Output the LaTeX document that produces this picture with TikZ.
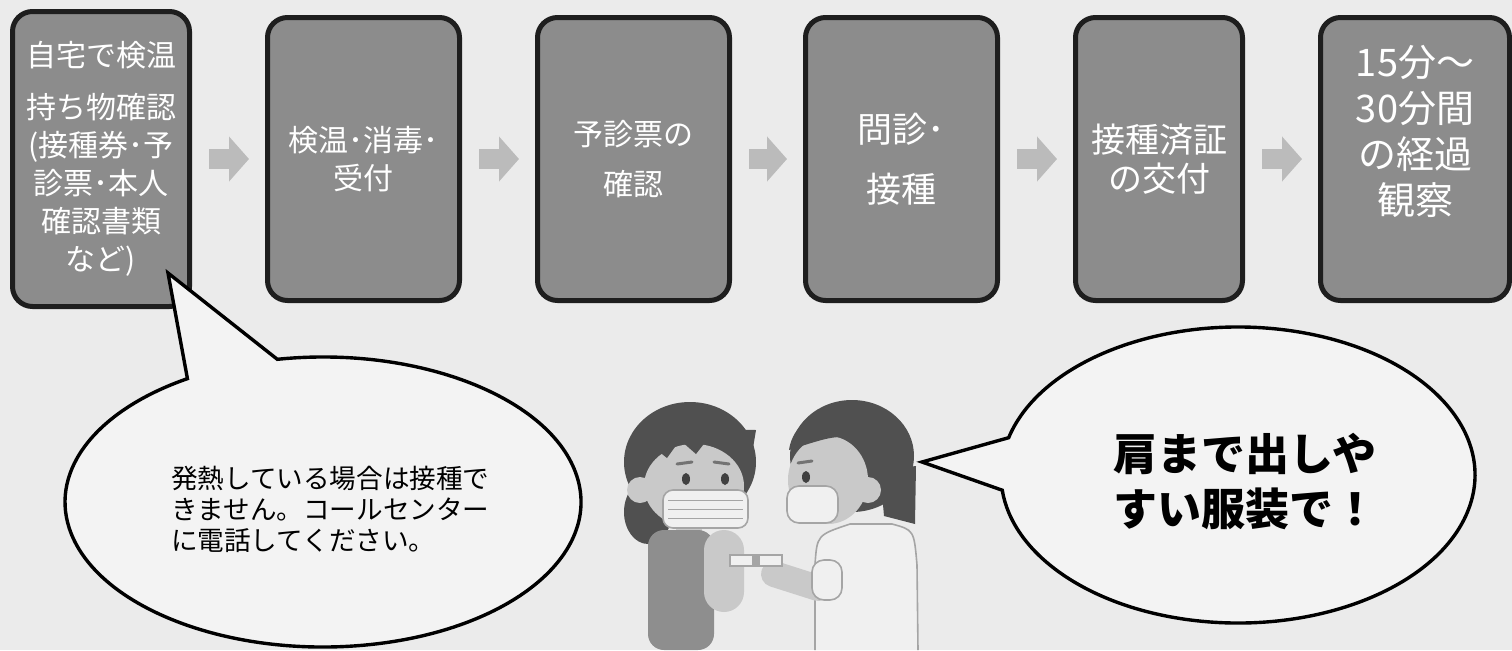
\documentclass[tikz,border=0pt]{standalone}
\usepackage{fontspec}
\setmainfont{Noto Sans CJK JP}
\usetikzlibrary{arrows.meta}
\definecolor{paper}{HTML}{EBEBEB}
\definecolor{boxgray}{HTML}{8C8C8C}
\definecolor{boxline}{HTML}{1E1E1E}
\definecolor{arrowgray}{HTML}{BBBBBB}
\definecolor{bubblefill}{HTML}{F3F3F3}
\definecolor{hair}{HTML}{505050}
\definecolor{skin}{HTML}{C9C9C9}
\definecolor{shirt}{HTML}{8E8E8E}
\definecolor{coat}{HTML}{F0F0F0}
\definecolor{outline}{HTML}{A5A5A5}

\begin{document}
\begin{tikzpicture}[x=0.5pt,y=-0.5pt,
	stepbox/.style={draw=boxline, line width=2.5pt, fill=boxgray, rounded corners=10pt,
		minimum width=96pt, minimum height=141.5pt, text=white, align=center},
	flowarrow/.style={draw=arrowgray, line width=10pt, -{Triangle[length=10pt,width=22pt]},
		shorten <=8.5pt, shorten >=8pt},
	bubble/.style={draw=black, line width=1.7pt, fill=bubblefill, line join=miter}]
	\useasboundingbox (0,0) rectangle (1512,650);
	\fill[paper] (0,0) rectangle (1512,650);

	% the six steps
	\node[stepbox, minimum width=88.5pt, minimum height=147.5pt, font=\fontsize{15pt}{19pt}\selectfont] (b1) at (101,159)
		{自宅で検温\\[7pt]持ち物確認\\(接種券･予\\診票･本人\\確認書類\\など)};
	\node[stepbox, font=\fontsize{15pt}{19pt}\selectfont] (b2) at (363.5,159) {検温･消毒･\\受付};
	\node[stepbox, font=\fontsize{15pt}{25pt}\selectfont] (b3) at (633.5,159) {予診票の\\確認};
	\node[stepbox, font=\fontsize{17.5pt}{30pt}\selectfont] (b4) at (901.5,159) {問診･\\接種};
	\node[stepbox, minimum width=83.5pt, font=\fontsize{17pt}{19.5pt}\selectfont] (b5) at (1159,159) {接種済証\\の交付};
	\node[stepbox, minimum width=94.5pt] (b6) at (1415,159) {};
	\node[text=white, align=center, font=\fontsize{19pt}{23pt}\selectfont] (b6t) at (1415,131)
		{15分～\\30分間\\の経過\\観察};

	\foreach \a/\b in {b1/b2,b2/b3,b3/b4,b4/b5,b5/b6}
		\draw[flowarrow] (\a) -- (\b);

	% patient
	\fill[hair] (690,462) ellipse [x radius=66, y radius=60];
	\fill[hair] (648,512) ellipse [x radius=24, y radius=32];
	\fill[skin] (676,512) rectangle (702,540);
	\fill[shirt, rounded corners=8pt] (648,530) rectangle (714,650);
	\fill[skin, rounded corners=10pt] (704,530) rectangle (744,612);
	\fill[skin] (640,490) circle [radius=13];
	\fill[skin] (694,486) ellipse [x radius=50, y radius=42];
	\fill[hair] (640,472) -- (652,446) -- (667,458) -- (680,440) -- (696,454) -- (710,436)
		-- (724,452) -- (737,440) -- (750,466) -- (756,430) -- (640,428) -- cycle;
	\draw[hair!80, line width=1.5pt, line cap=round] (677,464) -- (692,462) (714,462) -- (729,464);
	\fill[hair!80!black] (686,479) ellipse [x radius=4, y radius=6] (725,479) ellipse [x radius=4, y radius=6];
	\filldraw[fill=coat, draw=outline, line width=0.8pt, rounded corners=5pt] (663,490) rectangle (748,528);
	\draw[outline, line width=0.5pt] (668,500) -- (743,500) (668,509) -- (743,509) (668,518) -- (743,518);

	% nurse
	\fill[hair] (852,456) ellipse [x radius=62, y radius=56];
	\fill[hair] (880,470) -- (916,466) -- (915,524) -- (884,516) -- cycle;
	\filldraw[fill=coat, draw=outline, line width=0.8pt] (815,650) -- (815,565)
		.. controls (817,535) .. (850,524) -- (892,524) .. controls (914,530) .. (917,565) -- (918,650);
	\fill[skin] (828,480) ellipse [x radius=40, y radius=44];
	\fill[skin] (868,490) circle [radius=13];
	\fill[hair] (789,450) .. controls (796,400) and (880,392) .. (905,445)
		-- (872,455) .. controls (845,432) .. (789,450) -- cycle;
	\draw[hair!80, line width=1.5pt, line cap=round] (798,463) -- (812,461);
	\fill[hair!80!black] (806,477) ellipse [x radius=4, y radius=6];
	\filldraw[fill=coat, draw=outline, line width=0.8pt, rounded corners=6pt] (787,486) rectangle (838,523);
	\draw[skin, line width=13pt, line cap=round] (774,574) -- (818,588);
	\filldraw[fill=coat, draw=outline, line width=0.8pt, rounded corners=6pt] (812,560) rectangle (842,600);
	\fill[skin] (722,592) ellipse [x radius=15, y radius=12];
	\filldraw[fill=coat, draw=outline, line width=0.8pt] (730,555) rectangle (782,566);
	\fill[outline] (752,555) rectangle (760,566);

	% speech bubbles
	\coordinate (lc) at (323,502);
	\coordinate (ltip) at (168,273);
	\draw[bubble] (ltip) -- ([shift={(259.8:258 and 145)}]lc)
		arc [start angle=259.8, end angle=598.3, x radius=258, y radius=145] -- cycle;
	\node[anchor=west, align=left, font=\fontsize{13.3pt}{15.5pt}\selectfont] (lnote) at (164,509)
		{発熱している場合は接種で\\きません。コールセンター\\に電話してください。};

	\coordinate (rc) at (1238,475);
	\coordinate (rtip) at (922,462);
	\draw[bubble] (rtip) -- ([shift={(194.6:237 and 148)}]rc)
		arc [start angle=194.6, end angle=534.1, x radius=237, y radius=148] -- cycle;
	\node[anchor=west, align=left, font=\bfseries\fontsize{22pt}{27.5pt}\selectfont] (rnote) at (1106,481)
		{肩まで出しや\\すい服装で！};
\end{tikzpicture}
\end{document}
